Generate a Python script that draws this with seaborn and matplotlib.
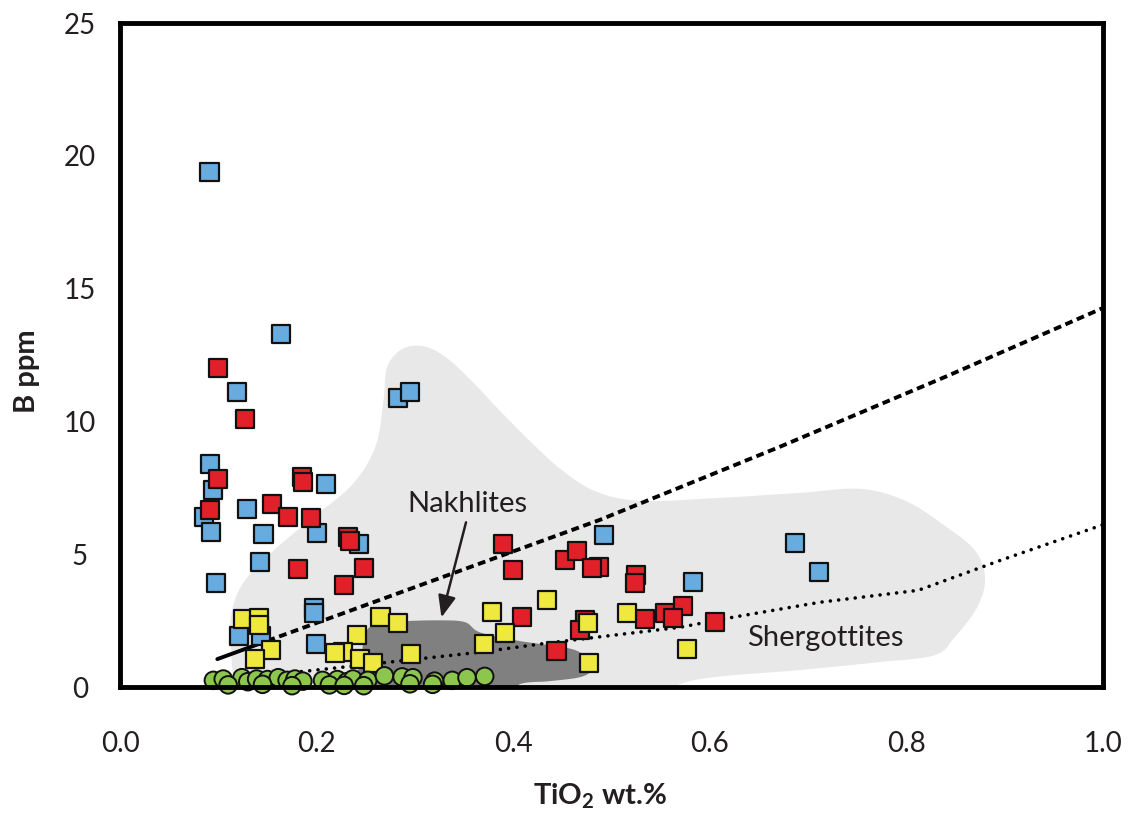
import numpy as np
import pandas as pd
import matplotlib
matplotlib.use("Agg")
import matplotlib.pyplot as plt
from matplotlib.patches import Polygon
import seaborn as sns

# ---- measured values: TiO2 (wt.%) and B (ppm) ----
blue_tio2 = [0.091, 0.164, 0.119, 0.283, 0.295, 0.092, 0.095, 0.085, 0.093, 0.129,
             0.146, 0.210, 0.200, 0.243, 0.142, 0.098, 0.197, 0.197, 0.199, 0.121,
             0.143, 0.492, 0.687, 0.711, 0.583]
blue_b = [19.39, 13.28, 11.10, 10.88, 11.11, 8.40, 7.42, 6.39, 5.82, 6.69,
          5.76, 7.63, 5.79, 5.37, 4.72, 3.90, 2.96, 2.79, 1.62, 1.93,
          1.93, 5.72, 5.42, 4.33, 3.96]

red_tio2 = [0.100, 0.127, 0.100, 0.092, 0.185, 0.186, 0.155, 0.171, 0.194, 0.232,
            0.234, 0.181, 0.248, 0.228, 0.390, 0.400, 0.409, 0.444, 0.453, 0.465,
            0.487, 0.480, 0.525, 0.524, 0.473, 0.468, 0.534, 0.554, 0.573, 0.563,
            0.605]
red_b = [12.02, 10.08, 7.82, 6.66, 7.91, 7.72, 6.88, 6.41, 6.35, 5.66,
         5.50, 4.43, 4.47, 3.84, 5.37, 4.41, 2.65, 1.37, 4.78, 5.12,
         4.51, 4.47, 4.22, 3.90, 2.52, 2.15, 2.55, 2.77, 3.05, 2.61,
         2.46]

yellow_tio2 = [0.125, 0.141, 0.141, 0.154, 0.137, 0.265, 0.283, 0.241, 0.227, 0.219,
               0.244, 0.257, 0.296, 0.378, 0.370, 0.392, 0.434, 0.476, 0.477, 0.516,
               0.577]
yellow_b = [2.55, 2.59, 2.33, 1.39, 1.04, 2.62, 2.40, 1.96, 1.33, 1.29,
            1.04, 0.89, 1.24, 2.81, 1.62, 2.02, 3.28, 2.42, 0.89, 2.80,
            1.42]

green_tio2 = [0.095, 0.105, 0.124, 0.130, 0.139, 0.150, 0.161, 0.170, 0.178, 0.186,
              0.206, 0.221, 0.231, 0.237, 0.252, 0.269, 0.287, 0.298, 0.320, 0.338,
              0.353, 0.371, 0.110, 0.145, 0.175, 0.213, 0.228, 0.248, 0.295, 0.318]
green_b = [0.25, 0.30, 0.35, 0.20, 0.30, 0.28, 0.35, 0.25, 0.30, 0.22,
           0.25, 0.28, 0.20, 0.30, 0.25, 0.42, 0.38, 0.35, 0.22, 0.25,
           0.35, 0.40, 0.08, 0.10, 0.05, 0.08, 0.06, 0.05, 0.12, 0.10]

# ---- trend lines ----
dash_tio2 = [0.099, 0.150, 0.488, 0.671, 0.841, 1.000]
dash_b = [1.05, 1.74, 6.29, 9.04, 11.70, 14.27]
dot_tio2 = [0.100, 0.190, 0.265, 0.366, 0.434, 0.502, 0.570, 0.618, 0.712, 0.812,
            0.895, 1.000]
dot_b = [0.30, 0.60, 0.90, 1.31, 1.65, 1.95, 2.25, 2.59, 3.19, 3.64,
         4.76, 6.11]

# ---- field outlines (TiO2, B) ----
sherg_tio2 = [0.117, 0.113, 0.113, 0.125, 0.156, 0.196, 0.237, 0.260, 0.268, 0.272,
              0.288, 0.310, 0.333, 0.358, 0.387, 0.417, 0.448, 0.483, 0.529, 0.610,
              0.692, 0.753, 0.799, 0.839, 0.870, 0.880, 0.872, 0.849, 0.829, 0.773,
              0.692, 0.590, 0.509, 0.285, 0.122]
sherg_b = [-0.4, 1.39, 2.70, 3.90, 5.13, 6.37, 7.65, 9.07, 10.76, 12.07,
           12.74, 12.82, 12.37, 11.51, 10.38, 9.26, 8.21, 7.38, 7.01, 7.12,
           7.31, 7.46, 7.01, 6.07, 5.13, 4.09, 3.00, 1.87, 1.20, 0.94,
           0.64, 0.30, -0.4, -0.4, -0.4]
nakh_tio2 = [0.246, 0.246, 0.249, 0.259, 0.285, 0.326, 0.351, 0.366, 0.402, 0.437,
             0.463, 0.478, 0.480, 0.468, 0.437, 0.407, 0.387]
nakh_b = [-0.4, 1.01, 1.95, 2.36, 2.47, 2.51, 2.44, 2.06, 1.76, 1.57,
          1.39, 1.01, 0.64, 0.37, 0.22, 0.11, -0.4]

x_ticks = [0.0, 0.2, 0.4, 0.6, 0.8, 1.0]
x_tick_labels = ["0.0", "0.2", "0.4", "0.6", "0.8", "1.0"]
y_ticks = [0, 5, 10, 15, 20, 25]
y_tick_labels = ["0", "5", "10", "15", "20", "25"]

groups = ["Group A", "Group B", "Group C", "Group D"]
colors = {"Group A": "#67ABDF", "Group B": "#E2202A", "Group C": "#EEE83F", "Group D": "#8DC64F"}


def smooth_closed(xs, ys, n=24):
    """Closed Catmull-Rom curve through the outline vertices."""
    P = np.column_stack([xs, ys]).astype(float)
    m = len(P)
    t = np.linspace(0, 1, n, endpoint=False)[:, None]
    segs = []
    for i in range(m):
        p0, p1, p2, p3 = P[i - 1], P[i], P[(i + 1) % m], P[(i + 2) % m]
        segs.append(0.5 * (2 * p1 + (-p0 + p2) * t
                           + (2 * p0 - 5 * p1 + 4 * p2 - p3) * t ** 2
                           + (-p0 + 3 * p1 - 3 * p2 + p3) * t ** 3))
    return np.vstack(segs)


sns.set_theme(style="white")
plt.rcParams["font.family"] = ["Lato", "DejaVu Sans"]
plt.rcParams["mathtext.fontset"] = "custom"
plt.rcParams["mathtext.bf"] = "Lato:bold"
plt.rcParams["mathtext.rm"] = "Lato"

fig = plt.figure(figsize=(11.31, 8.18), dpi=100)
ax = fig.add_axes([120 / 1131, 131 / 818, 983 / 1131, 664 / 818])
ax.set_xlim(0, 1.0)
ax.set_ylim(0, 25)

# compositional fields
ax.add_patch(Polygon(smooth_closed(sherg_tio2, sherg_b), closed=True,
                     facecolor="#E8E8E8", edgecolor="none", zorder=1))
ax.add_patch(Polygon(smooth_closed(nakh_tio2, nakh_b), closed=True,
                     facecolor="#808080", edgecolor="none", zorder=2))

# trend lines
ax.plot(dash_tio2[:2], dash_b[:2], color="black", lw=2.8, solid_capstyle="round", zorder=3)
ax.plot(dash_tio2[1:], dash_b[1:], color="black", lw=2.8, linestyle=(0, (2.0, 1.2)), zorder=3)
ax.plot(dot_tio2, dot_b, color="black", lw=2.6, linestyle=(0, (0.01, 2.3)),
        dash_capstyle="round", zorder=3)

# samples
df = pd.concat([
    pd.DataFrame({"TiO2": blue_tio2, "B": blue_b, "group": "Group A"}),
    pd.DataFrame({"TiO2": red_tio2, "B": red_b, "group": "Group B"}),
    pd.DataFrame({"TiO2": yellow_tio2, "B": yellow_b, "group": "Group C"}),
], ignore_index=True)
sns.scatterplot(data=df, x="TiO2", y="B", hue="group", hue_order=groups[:3],
                palette=colors, marker="s", s=170, edgecolor="#111111",
                linewidth=1.6, legend=False, ax=ax, zorder=4)
green_df = pd.DataFrame({"TiO2": green_tio2, "B": green_b, "group": "Group D"})
sns.scatterplot(data=green_df, x="TiO2", y="B", hue="group", palette=colors,
                marker="o", s=160, edgecolor="#111111", linewidth=1.4,
                legend=False, ax=ax, zorder=5, clip_on=False)

# field labels
ax.text(0.353, 6.9, "Nakhlites", fontsize=21, color="#231F20",
        ha="center", va="center", zorder=6)
ax.text(0.717, 1.85, "Shergottites", fontsize=21, color="#231F20",
        ha="center", va="center", zorder=6)
ax.annotate("", xy=(0.327, 2.62), xytext=(0.352, 6.2),
            arrowprops=dict(arrowstyle="-|>,head_length=1.1,head_width=0.45",
                            color="#231F20", lw=1.8, shrinkA=0, shrinkB=0),
            zorder=6)

# axes styling
for sp in ax.spines.values():
    sp.set_linewidth(3.5)
    sp.set_color("black")
    sp.set_zorder(10)
ax.set_xticks(x_ticks)
ax.set_xticklabels(x_tick_labels)
ax.set_yticks(y_ticks)
ax.set_yticklabels(y_tick_labels)
ax.tick_params(axis="both", length=0, labelsize=20, colors="#231F20")
ax.tick_params(axis="x", pad=32)
ax.tick_params(axis="y", pad=29)
for lab in ax.get_yticklabels():
    lab.set_horizontalalignment("center")

ax.set_xlabel(r"TiO$_\mathbf{2}$ wt.%", fontsize=21, fontweight="bold", color="#231F20")
ax.set_ylabel("B ppm", fontsize=21, fontweight="bold", color="#231F20")
ax.xaxis.set_label_coords(0.488, -0.142)
ax.yaxis.set_label_coords(-0.081, 0.476)

fig.savefig("out.png", dpi=100, facecolor="white")
